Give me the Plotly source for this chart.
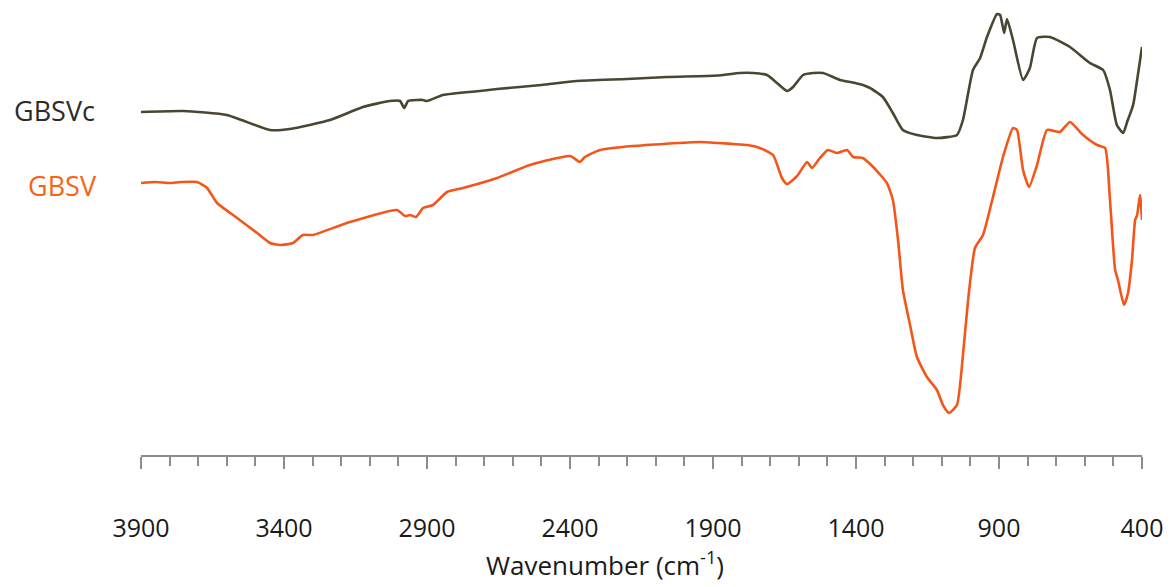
import plotly.graph_objects as go

# Wavenumbers (cm^-1) and relative transmittance (arbitrary units, offset spectra)
gbsvc_wn = [3900, 3752, 3600, 3449, 3379, 3239, 3124, 3030, 2994, 2980, 2966, 2935, 2914, 2900,
            2844, 2715, 2655, 2500, 2376, 2200, 2061, 1886, 1806, 1760, 1711, 1676, 1641, 1620,
            1585, 1550, 1515, 1456, 1421, 1376, 1351, 1306, 1271, 1236, 1187, 1117, 1047, 1026,
            991, 966, 942, 907, 896, 882, 872, 851, 816, 792, 767, 722, 652, 582, 536, 512,
            488, 466, 452, 431, 417, 400]
gbsvc_t = [343, 344, 340, 325, 326, 335, 348, 354, 354, 347, 354, 355, 355, 354,
           360, 364, 366, 370, 374, 376, 378, 379.5, 382, 382, 380, 372, 364, 368,
           380, 382, 382, 375, 373, 370, 367, 358, 342, 325, 320, 317, 320, 335,
           385, 397, 418, 441, 440, 422, 436, 415, 375, 387, 417, 418, 408, 392, 385, 365,
           330, 322, 333, 350, 375, 408]

gbsv_wn = [3900, 3850, 3800, 3760, 3704, 3669, 3634, 3564, 3494, 3449, 3414, 3368, 3334, 3299,
           3180, 3005, 2977, 2959, 2938, 2914, 2879, 2830, 2774, 2655, 2540, 2400, 2365, 2348,
           2295, 2180, 1945, 1830, 1780, 1736, 1690, 1659, 1641, 1606, 1571, 1554, 1526, 1498,
           1466, 1431, 1410, 1376, 1340, 1292, 1271, 1253, 1236, 1211, 1187, 1152, 1117, 1096,
           1075, 1047, 1026, 1008, 984, 956, 921, 886, 851, 837, 816, 795, 767, 732, 687, 652,
           606, 557, 529, 512, 494, 484, 463, 449, 435, 424, 417, 407, 400]
gbsv_t = [272, 273, 272, 273, 273, 267, 252, 237, 222, 212, 210, 212, 220, 220,
          232, 245, 239, 240, 238, 247, 250, 263, 267, 277, 290, 299, 293, 298,
          305, 309, 313, 311, 310, 307, 300, 277, 271, 279, 293, 287, 297, 305,
          302, 305, 298, 297, 288, 272, 255, 215, 165, 130, 98, 78, 65, 50,
          42, 50, 100, 155, 207, 220, 258, 298, 327, 325, 285, 268, 290, 325, 323, 333,
          320, 310, 307, 255, 185, 175, 150, 162, 195, 235, 240, 260, 235]

tick_vals = [3900, 3400, 2900, 2400, 1900, 1400, 900, 400]

fig = go.Figure()
fig.add_trace(go.Scatter(x=gbsvc_wn, y=gbsvc_t, mode="lines", name="GBSVc",
                         line=dict(color="#4a4630", width=2.6, shape="spline", smoothing=0.5)))
fig.add_trace(go.Scatter(x=gbsv_wn, y=gbsv_t, mode="lines", name="GBSV",
                         line=dict(color="#f4561a", width=2.6, shape="spline", smoothing=0.5)))

font_family = "Open Sans, Noto Sans, DejaVu Sans, sans-serif"

fig.update_layout(
    width=1174, height=587,
    margin=dict(l=141, r=32, t=10, b=132),
    paper_bgcolor="white", plot_bgcolor="white",
    showlegend=False,
    xaxis=dict(
        range=[3900, 400],
        tickvals=tick_vals,
        ticktext=[str(v) for v in tick_vals],
        ticks="outside", ticklen=12, tickwidth=1.5, tickcolor="#8c8c8c",
        minor=dict(dtick=100, ticks="outside", ticklen=9, tickwidth=1.5, tickcolor="#8c8c8c", showgrid=False),
        showline=True, linecolor="#8c8c8c", linewidth=1.5,
        showgrid=False, zeroline=False,
        tickfont=dict(family=font_family, size=25, color="#1a1a1a"),
        ticklabelstandoff=38,
    ),
    yaxis=dict(range=[0, 445], visible=False, showgrid=False, zeroline=False),
    annotations=[
        dict(text="GBSVc", xref="paper", yref="paper", x=-0.044, y=(455 - 111) / 445,
             xanchor="right", yanchor="middle", showarrow=False,
             font=dict(family=font_family, size=27, color="#2b2b2b")),
        dict(text="GBSV", xref="paper", yref="paper", x=-0.042, y=(455 - 186) / 445,
             xanchor="right", yanchor="middle", showarrow=False,
             font=dict(family=font_family, size=27, color="#f86414")),
        dict(text="Wavenumber (cm<sup>-1</sup>)", xref="paper", yref="paper",
             x=(605 - 141) / 1001, y=(455 - 564) / 445,
             xanchor="center", yanchor="middle", showarrow=False,
             font=dict(family=font_family, size=26, color="#1a1a1a")),
    ],
)

fig.write_html("out.html")
